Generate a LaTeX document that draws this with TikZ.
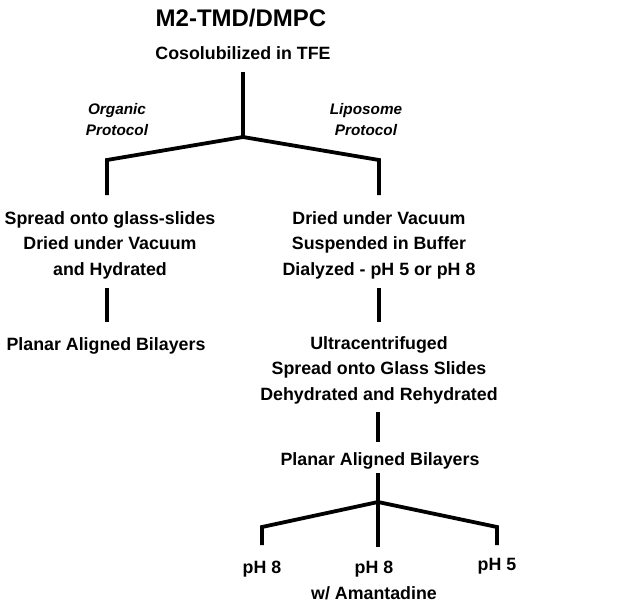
\documentclass[tikz,border=0pt]{standalone}
\usepackage{fontspec}
\setmainfont{Liberation Sans}
\begin{document}
\begin{tikzpicture}[x=1pt,y=-1pt,
  txt/.style={inner sep=0pt, anchor=base, align=center, font=\fontsize{17.8}{25.4}\selectfont\bfseries},
  ttl/.style={inner sep=0pt, anchor=base, font=\fontsize{24}{28}\selectfont\bfseries},
  lbl/.style={inner sep=0pt, anchor=base, align=center, font=\fontsize{15.3}{20.5}\selectfont\bfseries\itshape},
  conn/.style={line width=3.8pt, line join=miter, line cap=butt}]
\useasboundingbox (0,0) rectangle (623,613);
% texts (base anchor = baseline of the last line)
\node[ttl] (title) at (241,27) {M2-TMD/DMPC};
\node[txt] (cos) at (243,59) {Cosolubilized in TFE};
\node[lbl] (org) at (117,135) {Organic\\Protocol};
\node[lbl] (lip) at (366,135) {Liposome\\Protocol};
\node[txt] (lblock) at (110,275) {Spread onto glass-slides\\Dried under Vacuum\\and Hydrated};
\node[txt] (lplanar) at (106,350) {Planar Aligned Bilayers};
\node[txt] (rblock) at (379,275) {Dried under Vacuum\\Suspended in Buffer\\Dialyzed - pH 5 or pH 8};
\node[txt] (ultra) at (379,400) {Ultracentrifuged\\Spread onto Glass Slides\\Dehydrated and Rehydrated};
\node[txt] (rplanar) at (380,465) {Planar Aligned Bilayers};
\node[txt] (ph8a) at (262,573) {pH 8};
\node[txt] (ph8b) at (374,599) {pH 8\\w/ Amantadine};
\node[txt] (ph5) at (497,570) {pH 5};
% junction coordinates
\coordinate (t0) at (243,72);
\coordinate (j1) at (243,137);
\coordinate (l1) at (107,160);
\coordinate (l2) at (107,195);
\coordinate (r1) at (379,160);
\coordinate (r2) at (379,195);
\coordinate (l3) at (107,288);
\coordinate (l4) at (107,322);
\coordinate (r3) at (379,288);
\coordinate (r4) at (379,322);
\coordinate (u1) at (378,412);
\coordinate (u2) at (378,442);
\coordinate (p1) at (378,473);
\coordinate (j2) at (378,502);
\coordinate (m1) at (378,547);
\coordinate (a1) at (262,527);
\coordinate (a2) at (262,545);
\coordinate (c1) at (497,527);
\coordinate (c2) at (497,545);
% connectors
\draw[conn] (t0) -- (j1);
\draw[conn] (l2) -- (l1) -- (j1) -- (r1) -- (r2);
\draw[conn] (l3) -- (l4);
\draw[conn] (r3) -- (r4);
\draw[conn] (u1) -- (u2);
\draw[conn] (p1) -- (j2) -- (m1);
\draw[conn] (a2) -- (a1) -- (j2) -- (c1) -- (c2);
\end{tikzpicture}
\end{document}
